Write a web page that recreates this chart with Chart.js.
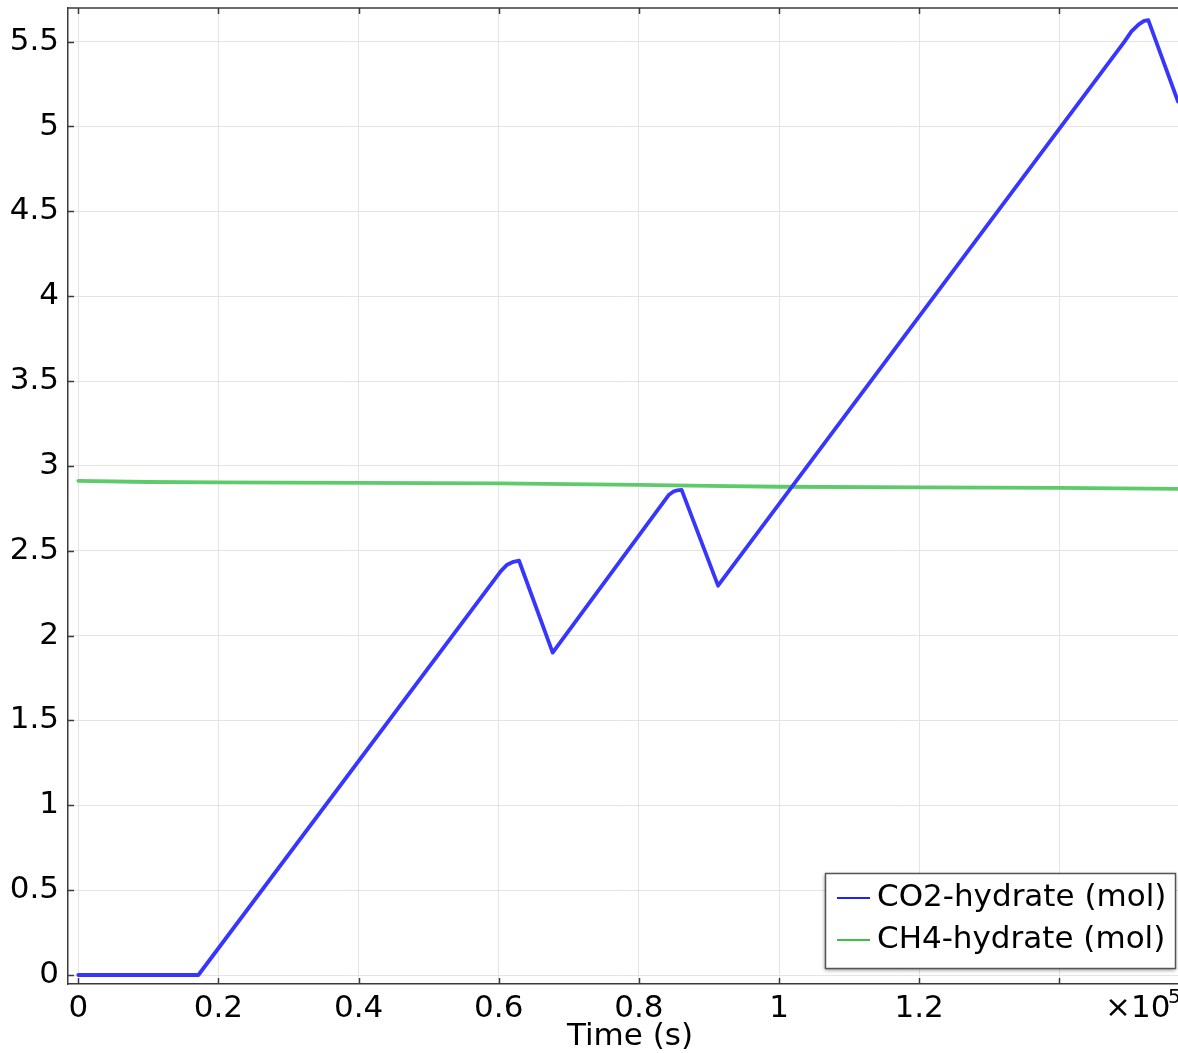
<!DOCTYPE html>
<html><head><meta charset="utf-8">
<script src="https://cdn.jsdelivr.net/npm/chart.js@4"></script>
<style>html,body{margin:0;padding:0;background:#fff}canvas{display:block}</style>
</head><body>
<canvas id="c" width="1178" height="1053"></canvas>
<script>
// Time in units of 1e5 s
const co2Time   = [0, 0.1714, 0.603, 0.612, 0.621, 0.629, 0.677, 0.843, 0.849, 0.855, 0.861, 0.913, 1.493, 1.503, 1.513, 1.521, 1.527, 1.5694];
const co2Amount = [0, 0,      2.38,  2.418, 2.435, 2.441, 1.90,  2.83,  2.848, 2.856, 2.859, 2.294, 5.50,  5.56,  5.60,  5.622, 5.626, 5.147];
const ch4Time   = [0,     0.1,   0.2,   0.4,   0.6,   0.7,   0.8,   0.9,   1.0,   1.2,   1.4,   1.5694];
const ch4Amount = [2.912, 2.905, 2.903, 2.900, 2.897, 2.893, 2.888, 2.882, 2.877, 2.873, 2.870, 2.864];
const seriesLabels = ['CO2-hydrate (mol)', 'CH4-hydrate (mol)'];
const seriesColors = ['#3636ff', '#5ecb6a'];
const legendColors = ['#2020ff', '#40c040'];
const xTicks = [0, 0.2, 0.4, 0.6, 0.8, 1, 1.2, 1.4];
const xTickLabels = ['0', '0.2', '0.4', '0.6', '0.8', '1', '1.2', ''];
const yTicks = [0, 0.5, 1, 1.5, 2, 2.5, 3, 3.5, 4, 4.5, 5, 5.5];
const yTickLabels = ['0', '0.5', '1', '1.5', '2', '2.5', '3', '3.5', '4', '4.5', '5', '5.5'];
const xAxisTitle = 'Time (s)';
const xExponent = '5';

const FONT = "'DejaVu Sans', sans-serif";
const FS = 31;

const framePlugin = {
  id: 'frame',
  beforeDatasetsDraw(chart) {
    const {ctx, chartArea: a, scales: {x, y}} = chart;
    ctx.save();
    ctx.strokeStyle = '#3a3a3a';
    ctx.lineWidth = 1.5;
    ctx.beginPath();
    ctx.moveTo(a.left, a.top); ctx.lineTo(a.right, a.top);
    ctx.stroke();
    ctx.beginPath();
    x.ticks.forEach(t => {
      const px = Math.round(x.getPixelForValue(t.value)) + 0.5;
      ctx.moveTo(px, a.bottom); ctx.lineTo(px, a.bottom - 6);
      ctx.moveTo(px, a.top); ctx.lineTo(px, a.top + 6);
    });
    y.ticks.forEach(t => {
      const py = Math.round(y.getPixelForValue(t.value)) + 0.5;
      ctx.moveTo(a.left, py); ctx.lineTo(a.left + 6, py);
    });
    ctx.stroke();
    ctx.restore();
  },
  afterDraw(chart) {
    const {ctx, chartArea: a} = chart;
    ctx.save();
    // legend
    const w = 350, h = 95;
    const left = a.right - 3 - w, top = a.bottom - 16 - h;
    ctx.save();
    ctx.shadowColor = 'rgba(0,0,0,0.45)';
    ctx.shadowBlur = 4;
    ctx.shadowOffsetX = 0;
    ctx.shadowOffsetY = 2;
    ctx.fillStyle = '#fff';
    ctx.fillRect(left, top, w, h);
    ctx.restore();
    ctx.strokeStyle = '#555';
    ctx.lineWidth = 1.5;
    ctx.strokeRect(left + 0.5, top + 0.5, w, h);
    ctx.font = FS + 'px ' + FONT;
    ctx.textBaseline = 'middle';
    chart.data.datasets.forEach((ds, i) => {
      const cy = top + 25 + i * 42;
      ctx.strokeStyle = legendColors[i];
      ctx.lineWidth = 2;
      ctx.beginPath(); ctx.moveTo(left + 12, cy); ctx.lineTo(left + 45, cy); ctx.stroke();
      ctx.fillStyle = '#000';
      ctx.fillText(ds.label, left + 52, cy);
    });
    // axis title
    ctx.fillStyle = '#000';
    ctx.textBaseline = 'alphabetic';
    ctx.textAlign = 'center';
    ctx.font = FS + 'px ' + FONT;
    ctx.fillText(xAxisTitle, 630, 1045);
    // exponent label
    ctx.textAlign = 'left';
    ctx.fillText('\u00d710', 1105, 1017);
    ctx.font = '20px ' + FONT;
    ctx.fillText(xExponent, 1168, 1003);
    ctx.restore();
  }
};

new Chart(document.getElementById('c'), {
  type: 'line',
  data: {
    datasets: [
      {label: seriesLabels[0], data: co2Time.map((t, i) => ({x: t, y: co2Amount[i]})),
       borderColor: seriesColors[0], borderWidth: 3.8, pointRadius: 0, tension: 0,
       borderJoinStyle: 'round', borderCapStyle: 'round'},
      {label: seriesLabels[1], data: ch4Time.map((t, i) => ({x: t, y: ch4Amount[i]})),
       borderColor: seriesColors[1], borderWidth: 3.8, pointRadius: 0, tension: 0,
       borderJoinStyle: 'round', borderCapStyle: 'round'}
    ]
  },
  options: {
    responsive: false,
    animation: false,
    events: [],
    layout: {padding: {top: 8, right: 0, left: 0, bottom: 0}},
    plugins: {legend: {display: false}, tooltip: {enabled: false}},
    scales: {
      x: {
        type: 'linear', min: -0.0147, max: 1.5694,
        afterBuildTicks: s => { s.ticks = xTicks.map(v => ({value: v})); },
        afterFit: s => { s.height = 69; s.paddingLeft = 0; s.paddingRight = 0; },
        grid: {color: '#e4e4e4', lineWidth: 1, drawTicks: false},
        border: {color: '#3a3a3a', width: 1.5},
        ticks: {font: {family: FONT, size: FS}, color: '#000', padding: 6, maxRotation: 0, autoSkip: false,
                callback: (v, i) => xTickLabels[i]},
        title: {display: false}
      },
      y: {
        type: 'linear', min: -0.053, max: 5.698,
        afterBuildTicks: s => { s.ticks = yTicks.map(v => ({value: v})); },
        afterFit: s => { s.width = 68; s.paddingTop = 0; s.paddingBottom = 0; },
        grid: {color: '#e4e4e4', lineWidth: 1, drawTicks: false},
        border: {color: '#3a3a3a', width: 1.5},
        ticks: {font: {family: FONT, size: FS}, color: '#000', padding: 9, autoSkip: false,
                callback: (v, i) => yTickLabels[i]}
      }
    }
  },
  plugins: [framePlugin]
});
</script>
</body></html>
